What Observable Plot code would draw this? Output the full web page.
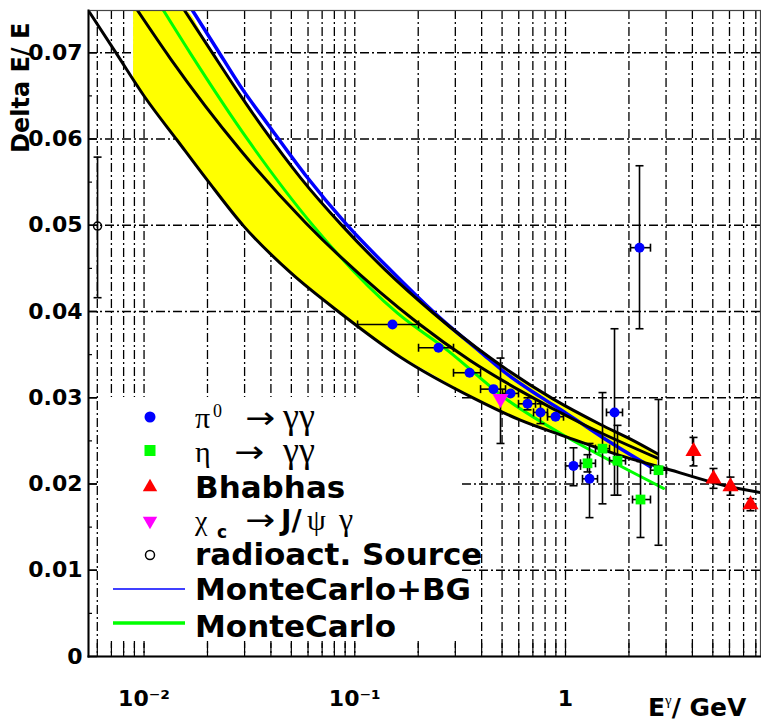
<!DOCTYPE html>
<html>
<head>
<meta charset="utf-8">
<script src="https://cdn.jsdelivr.net/npm/d3@7"></script>
<script src="https://cdn.jsdelivr.net/npm/@observablehq/plot@0.6"></script>
<style>
  html, body { margin: 0; padding: 0; background: #fff; }
  #chart svg { display: block; }
</style>
</head>
<body>
<div id="chart"></div>
<script>
// ---------- Curves: E (GeV) vs Delta E / E ----------
// full-range black fit curve (lower edge of the band)
const fitE = [0.00551, 0.0074, 0.01006, 0.01442, 0.0200, 0.0297, 0.0496, 0.0856, 0.165, 0.370, 0.611, 1.0, 1.99, 2.98, 5.74, 8.42];
const fitY = [0.0747, 0.0699, 0.0649, 0.0598, 0.0552, 0.0499, 0.0445, 0.0398, 0.0347, 0.0299, 0.0274, 0.0255, 0.0230, 0.0218, 0.0198, 0.0190];

// yellow band
const bandE  = [0.00892, 0.01198, 0.01557, 0.02068, 0.02717, 0.0369, 0.0553, 0.0875, 0.1399, 0.2364, 0.4406, 0.8677, 1.466, 2.035, 2.732];
const bandLo = [0.0669, 0.0625, 0.0588, 0.0547, 0.0510, 0.0475, 0.0436, 0.0396, 0.0359, 0.0326, 0.0290, 0.0260, 0.0241, 0.0229, 0.0220];
const bandHi = [0.0749, 0.0749, 0.0749, 0.0703, 0.0659, 0.0612, 0.0555, 0.0499, 0.0448, 0.0398, 0.0346, 0.0299, 0.0269, 0.0252, 0.0235];

// upper black edge of the band
const upperE = [0.01557, 0.02068, 0.02717, 0.0369, 0.0553, 0.0875, 0.1399, 0.2364, 0.4406, 0.8677, 1.466, 2.035, 2.732];
const upperY = [0.0749, 0.0703, 0.0659, 0.0612, 0.0555, 0.0499, 0.0448, 0.0398, 0.0346, 0.0299, 0.0269, 0.0252, 0.0235];

// middle black curve
const midE = [0.009316, 0.01336, 0.0287, 0.0584, 0.1325, 0.1985, 0.3541, 0.6114, 1.217, 2.732];
const midY = [0.0749, 0.0693, 0.0587, 0.0503, 0.0422, 0.0387, 0.0343, 0.0308, 0.0269, 0.0230];

// MonteCarlo+BG (blue)
const mcbgE = [0.01699, 0.02208, 0.02870, 0.03897, 0.05839, 0.09138, 0.1477, 0.2552, 0.3952, 0.5306, 0.7607, 1.022, 1.636, 2.530];
const mcbgY = [0.0749, 0.0705, 0.0661, 0.0616, 0.0558, 0.0501, 0.0448, 0.0392, 0.0353, 0.0327, 0.0301, 0.0281, 0.0248, 0.0220];

// MonteCarlo (green)
const mcE = [0.01237, 0.01662, 0.03131, 0.06371, 0.1595, 0.2755, 0.5191, 1.022, 1.466, 2.917];
const mcY = [0.0749, 0.0699, 0.0598, 0.0499, 0.0398, 0.0355, 0.0299, 0.0254, 0.0233, 0.0195];

// ---------- Measured points ----------
// pi0 -> gamma gamma (blue)
const pi0E   = [0.1510, 0.2496, 0.3504, 0.4553, 0.5483, 0.6603, 0.7607, 0.8965, 1.0913, 1.2998, 1.7083, 2.2447];
const pi0Y   = [0.0385, 0.0358, 0.0329, 0.0310, 0.0305, 0.0293, 0.0283, 0.0278, 0.0221, 0.0206, 0.0283, 0.0474];
const pi0Xlo = [0.1031, 0.2007, 0.2941, 0.3952, 0.5025, 0.5984, 0.7051, 0.8215, 1.0000, 1.2041, 1.5648, 2.0345];
const pi0Xhi = [0.2007, 0.2941, 0.3952, 0.5192, 0.5984, 0.7206, 0.8215, 0.9784, 1.1781, 1.4186, 1.8644, 2.5304];
const pi0Ylo = [0.0381, 0.0354, 0.0325, 0.0306, 0.0301, 0.0286, 0.0270, 0.0274, 0.0198, 0.0161, 0.0187, 0.0380];
const pi0Yhi = [0.0389, 0.0362, 0.0333, 0.0314, 0.0309, 0.0300, 0.0293, 0.0282, 0.0242, 0.0247, 0.0380, 0.0569];

// eta -> gamma gamma (green)
const etaE   = [1.2716, 1.4981, 1.7650, 2.2694, 2.7622];
const etaY   = [0.0224, 0.0241, 0.0227, 0.0182, 0.0216];
const etaXlo = [1.1781, 1.3876, 1.6175, 2.0795, 2.5304];
const etaXhi = [1.3876, 1.6175, 1.9264, 2.5304, 3.0158];
const etaYlo = [0.0214, 0.0177, 0.0187, 0.0138, 0.0129];
const etaYhi = [0.0234, 0.0306, 0.0268, 0.0226, 0.0298];

// Bhabhas (red)
const bhaE   = [4.0497, 5.0384, 6.0661, 7.5470];
const bhaY   = [0.0238, 0.0206, 0.0197, 0.0176];
const bhaYlo = [0.0221, 0.0195, 0.0187, 0.0169];
const bhaYhi = [0.0254, 0.0218, 0.0208, 0.0183];

// chi_c -> J/psi gamma (magenta)
const chiE   = [0.4915];
const chiY   = [0.0299];
const chiYlo = [0.0247];
const chiYhi = [0.0346];

// radioactive source (open circle)
const srcE   = [0.006017];
const srcY   = [0.0499];
const srcYlo = [0.0416];
const srcYhi = [0.0579];

// ---------- Axes ----------
const yMajor = [0, 0.01, 0.02, 0.03, 0.04, 0.05, 0.06, 0.07];
const yMinor = [0.005, 0.015, 0.025, 0.035, 0.045, 0.055, 0.065];
const xLabelTicks = [0.01, 0.1, 1];
const xLabelText = ["10\u207B\u00B2", "10\u207B\u00B9", "1"];
const xGrid = [0.006, 0.007, 0.008, 0.009,
  0.01, 0.02, 0.03, 0.04, 0.05, 0.06, 0.07, 0.08, 0.09,
  0.1, 0.2, 0.3, 0.4, 0.5, 0.6, 0.7, 0.8, 0.9,
  1, 2, 3, 4, 5, 6, 7, 8];
const yGrid = [0.01, 0.02, 0.03, 0.04, 0.05, 0.06, 0.07];

// ---------- Tables ----------
const zip = (E, Y) => E.map((e, i) => ({E: e, y: Y[i]}));
const fit = zip(fitE, fitY);
const band = bandE.map((e, i) => ({E: e, lo: bandLo[i], hi: bandHi[i]}));
const upper = zip(upperE, upperY);
const mid = zip(midE, midY);
const mcbg = zip(mcbgE, mcbgY);
const mc = zip(mcE, mcY);
const mkPts = (E, Y, xlo, xhi, ylo, yhi) => E.map((e, i) => ({
  E: e, y: Y[i],
  xlo: xlo ? xlo[i] : e, xhi: xhi ? xhi[i] : e,
  ylo: ylo ? ylo[i] : Y[i], yhi: yhi ? yhi[i] : Y[i]
}));
const pi0 = mkPts(pi0E, pi0Y, pi0Xlo, pi0Xhi, pi0Ylo, pi0Yhi);
const eta = mkPts(etaE, etaY, etaXlo, etaXhi, etaYlo, etaYhi);
const bha = mkPts(bhaE, bhaY, null, null, bhaYlo, bhaYhi);
const chi = mkPts(chiE, chiY, null, null, chiYlo, chiYhi);
const src = mkPts(srcE, srcY, null, null, srcYlo, srcYhi);
const allPts = [...pi0, ...eta, ...bha, ...chi, ...src];

// cap symbols for error bars
const hCap = {draw(ctx, size) { const w = Math.sqrt(size / Math.PI); ctx.moveTo(-w, 0); ctx.lineTo(w, 0); }};
const vCap = {draw(ctx, size) { const w = Math.sqrt(size / Math.PI); ctx.moveTo(0, -w); ctx.lineTo(0, w); }};

const dash = "9,3,2,3";
const plotW = 761 - 88 - 1, plotH = 724 - 10 - 68;

const plot = Plot.plot({
  width: 761, height: 724,
  marginLeft: 88, marginRight: 1, marginTop: 10, marginBottom: 68,
  x: {type: "log", domain: [0.00545, 8.42], label: null},
  y: {domain: [0, 0.0749], label: null},
  style: {fontFamily: "DejaVu Sans", background: "#fff", color: "#000"},
  marks: [
    Plot.ruleX(xGrid, {x: d => d, stroke: "#000", strokeWidth: 1.3, strokeDasharray: dash}),
    Plot.ruleY(yGrid, {y: d => d, stroke: "#000", strokeWidth: 1.3, strokeDasharray: dash}),
    Plot.areaY(band, {x: "E", y1: "lo", y2: "hi", fill: "#ffff00", curve: "monotone-x", clip: true}),
    Plot.line(mcbg, {x: "E", y: "y", stroke: "#0000ff", strokeWidth: 3.5, curve: "monotone-x", clip: true}),
    Plot.line(mc, {x: "E", y: "y", stroke: "#00ff00", strokeWidth: 3, curve: "monotone-x", clip: true}),
    Plot.line(mid, {x: "E", y: "y", stroke: "#000", strokeWidth: 3, curve: "monotone-x", clip: true}),
    Plot.line(upper, {x: "E", y: "y", stroke: "#000", strokeWidth: 3, curve: "monotone-x", clip: true}),
    Plot.line(fit, {x: "E", y: "y", stroke: "#000", strokeWidth: 3, curve: "monotone-x", clip: true}),
    // error bars
    Plot.ruleX(allPts, {x: "E", y1: "ylo", y2: "yhi", stroke: "#000", strokeWidth: 1.6}),
    Plot.ruleY(allPts.filter(d => d.xhi > d.xlo), {y: "y", x1: "xlo", x2: "xhi", stroke: "#000", strokeWidth: 1.6}),
    Plot.dot(allPts.filter(d => d.yhi - d.ylo > 0.0012), {x: "E", y: "yhi", symbol: hCap, r: 4, stroke: "#000", fill: "none", strokeWidth: 1.6}),
    Plot.dot(allPts.filter(d => d.yhi - d.ylo > 0.0012), {x: "E", y: "ylo", symbol: hCap, r: 4, stroke: "#000", fill: "none", strokeWidth: 1.6}),
    Plot.dot(allPts.filter(d => d.xhi > d.xlo), {x: "xlo", y: "y", symbol: vCap, r: 4, stroke: "#000", fill: "none", strokeWidth: 1.6}),
    Plot.dot(allPts.filter(d => d.xhi > d.xlo), {x: "xhi", y: "y", symbol: vCap, r: 4, stroke: "#000", fill: "none", strokeWidth: 1.6}),
    // markers
    Plot.dot(pi0, {x: "E", y: "y", r: 5, fill: "#0000ff"}),
    Plot.dot(eta, {x: "E", y: "y", r: 5.5, symbol: "square", fill: "#00ff00"}),
    Plot.dot(bha, {x: "E", y: "y", r: 6, symbol: "triangle", fill: "#ff0000"}),
    Plot.dot(chi, {x: "E", y: "y", r: 6, symbol: "triangle", rotate: 180, fill: "#ff00ff"}),
    Plot.dot(src, {x: "E", y: "y", r: 4, fill: "none", stroke: "#000", strokeWidth: 1.5}),
    // axes
    Plot.tickY(yMajor, {y: d => d, insetRight: plotW - 9, stroke: "#000", strokeWidth: 1.5}),
    Plot.tickY(yMinor, {y: d => d, insetRight: plotW - 4, stroke: "#000", strokeWidth: 1.2}),
    Plot.tickX(xGrid, {x: d => d, insetTop: plotH - 13, stroke: "#000", strokeWidth: 1.2}),
    Plot.axisY(yMajor, {tickSize: 0, tickPadding: 6, tickFormat: d => d === 0 ? "0" : d.toFixed(2),
      fontSize: 22, fontWeight: "bold", fill: "#000", label: null}),
    Plot.axisX(xLabelTicks, {tickSize: 0, tickPadding: 34, tickFormat: d => xLabelText[xLabelTicks.indexOf(d)],
      fontSize: 22, fontWeight: "bold", fill: "#000", label: null}),
    Plot.frame({stroke: "#444", strokeWidth: 1.2}),
    Plot.frame({anchor: "left", stroke: "#000", strokeWidth: 2}),
    Plot.frame({anchor: "bottom", stroke: "#000", strokeWidth: 2})
  ]
});

document.getElementById("chart").appendChild(plot);

// ---------- Titles and legend ----------
const svg = d3.select(plot);
const sans = "DejaVu Sans";
const serif = "Liberation Serif, DejaVu Serif, serif";
function txt(parent, x, y, s, size, family, weight, extra) {
  const t = parent.append("text").attr("x", x).attr("y", y)
    .attr("text-anchor", "start")
    .attr("font-size", size).attr("font-family", family)
    .attr("font-weight", weight || "normal").attr("fill", "#000").text(s);
  if (extra) extra(t);
  return t;
}
const stretch = w => t => t.attr("textLength", w).attr("lengthAdjust", "spacingAndGlyphs");

// axis titles
txt(svg, 0, 0, "Delta E/ E", 24, sans, "bold", t => t.attr("transform", "translate(29,153) rotate(-90)"));
const xt = svg.append("text").attr("x", 648).attr("y", 716).attr("font-size", 25)
  .attr("text-anchor", "start")
  .attr("font-family", sans).attr("font-weight", "bold").attr("fill", "#000");
xt.append("tspan").text("E");
xt.append("tspan").attr("dy", -11).attr("font-size", 15).attr("font-family", serif).attr("font-weight", "normal").text("\u03B3");
xt.append("tspan").attr("dy", 11).text("/ GeV");

// legend
const lg = svg.append("g");
lg.append("rect").attr("x", 99).attr("y", 397).attr("width", 363).attr("height", 244).attr("fill", "#fff");
const mx = 150;
lg.append("circle").attr("cx", mx).attr("cy", 417).attr("r", 5.5).attr("fill", "#0000ff");
lg.append("rect").attr("x", mx - 5.5).attr("y", 445).attr("width", 11).attr("height", 11).attr("fill", "#00ff00");
lg.append("path").attr("d", d3.symbol(d3.symbolTriangle, 90)()).attr("transform", `translate(${mx},487)`).attr("fill", "#ff0000");
lg.append("path").attr("d", d3.symbol(d3.symbolTriangle, 90)()).attr("transform", `translate(${mx},521) rotate(180)`).attr("fill", "#ff00ff");
lg.append("circle").attr("cx", mx).attr("cy", 555).attr("r", 4.5).attr("fill", "none").attr("stroke", "#000").attr("stroke-width", 1.5);
lg.append("line").attr("x1", 113).attr("x2", 185).attr("y1", 589).attr("y2", 589).attr("stroke", "#0000ff").attr("stroke-width", 1.6);
lg.append("line").attr("x1", 113).attr("x2", 185).attr("y1", 623).attr("y2", 623).attr("stroke", "#00ff00").attr("stroke-width", 3.5);

// row 1: pi0 -> gamma gamma
txt(lg, 195, 428, "\u03C0", 30, serif);
txt(lg, 213, 417, "0", 18, serif);
txt(lg, 245, 428, "\u2192", 30, sans, "normal", stretch(30));
txt(lg, 283, 428, "\u03B3\u03B3", 36, serif);
// row 2: eta -> gamma gamma
txt(lg, 195, 462, "\u03B7", 30, serif);
txt(lg, 234, 462, "\u2192", 30, sans, "normal", stretch(30));
txt(lg, 283, 462, "\u03B3\u03B3", 36, serif);
// row 3
txt(lg, 195, 498, "Bhabhas", 31, sans, "bold");
// row 4: chi_c -> J/psi gamma
txt(lg, 195, 530, "\u03C7", 28, serif);
txt(lg, 217, 538, "c", 17, sans, "bold");
txt(lg, 245, 530, "\u2192", 30, sans, "normal", stretch(30));
txt(lg, 281, 530, "J/", 28, sans, "bold");
txt(lg, 307, 530, "\u03C8", 30, serif);
txt(lg, 339, 530, "\u03B3", 32, serif);
// rows 5-7
txt(lg, 195, 565, "radioact. Source", 31, sans, "bold");
txt(lg, 195, 600, "MonteCarlo+BG", 31, sans, "bold");
txt(lg, 195, 637, "MonteCarlo", 31, sans, "bold");
</script>
</body>
</html>
